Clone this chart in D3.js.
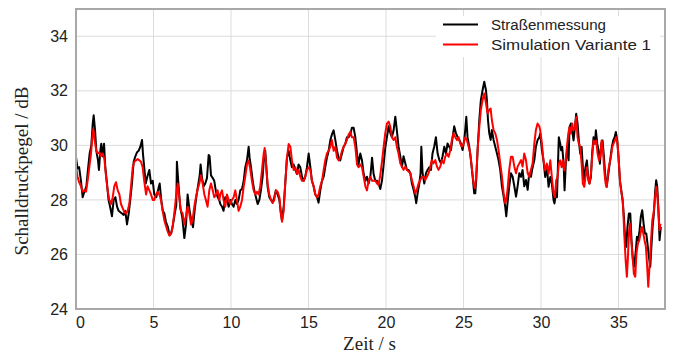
<!DOCTYPE html>
<html><head><meta charset="utf-8">
<script src="https://cdn.jsdelivr.net/npm/d3@7"></script>
<style>html,body{margin:0;padding:0;background:#fff}svg{display:block}</style>
</head><body><svg id="c" width="674" height="354"></svg>
<script>
const xTicks = [0,5,10,15,20,25,30,35];
const yTicks = [24,26,28,30,32,34];
const seriesNames = ["Straßenmessung","Simulation Variante 1"];
const seriesColors = ["#000000","#ff0000"];

const measTime = [0,0.10,0.20,0.32,0.43,0.54,0.67,0.77,0.88,0.99,1.08,1.14,1.23,1.31,1.42,1.48,1.57,1.63,1.72,1.81,1.89,2.00,2.10,2.20,2.32,2.43,2.54,2.65,2.75,2.86,2.97,3.08,3.18,3.29,3.40,3.50,3.61,3.72,3.83,3.94,4.04,4.15,4.26,4.32,4.40,4.50,4.60,4.73,4.84,4.95,5.05,5.18,5.29,5.40,5.50,5.60,5.70,5.80,5.93,6.04,6.15,6.26,6.37,6.47,6.51,6.62,6.73,6.86,6.99,7.10,7.20,7.33,7.44,7.55,7.65,7.76,7.87,7.98,8.04,8.13,8.24,8.34,8.45,8.56,8.62,8.71,8.82,8.92,9.03,9.14,9.24,9.31,9.42,9.52,9.63,9.74,9.85,9.96,10.06,10.17,10.28,10.38,10.49,10.60,10.71,10.82,10.92,11.03,11.14,11.20,11.29,11.40,11.50,11.61,11.72,11.83,11.93,12.04,12.15,12.21,12.28,12.36,12.47,12.58,12.69,12.79,12.90,13.01,13.12,13.22,13.29,13.40,13.50,13.61,13.72,13.83,13.93,14.04,14.15,14.26,14.36,14.47,14.58,14.69,14.79,14.90,15.01,15.12,15.22,15.33,15.44,15.55,15.65,15.76,15.87,15.98,16.08,16.19,16.30,16.41,16.51,16.62,16.73,16.84,16.94,17.05,17.16,17.27,17.37,17.48,17.59,17.70,17.80,17.91,18.02,18.13,18.23,18.34,18.45,18.56,18.67,18.77,18.88,18.99,19.10,19.20,19.31,19.42,19.52,19.63,19.74,19.85,19.95,20.06,20.17,20.28,20.38,20.49,20.60,20.70,20.81,20.92,21.03,21.13,21.24,21.35,21.46,21.57,21.67,21.78,21.89,21.95,22.04,22.15,22.23,22.28,22.36,22.47,22.58,22.68,22.79,22.90,23.00,23.11,23.22,23.33,23.44,23.54,23.65,23.76,23.87,23.97,24.08,24.19,24.30,24.40,24.51,24.62,24.73,24.83,24.94,25.05,25.11,25.18,25.26,25.37,25.48,25.59,25.69,25.76,25.82,25.91,26.02,26.12,26.23,26.34,26.45,26.51,26.58,26.66,26.75,26.83,26.94,27.05,27.16,27.26,27.37,27.48,27.59,27.69,27.76,27.84,27.95,28.06,28.17,28.28,28.39,28.49,28.60,28.71,28.81,28.92,29.03,29.14,29.24,29.35,29.46,29.57,29.67,29.78,29.89,29.95,30.06,30.16,30.27,30.38,30.49,30.60,30.70,30.81,30.87,30.96,31.03,31.09,31.15,31.24,31.30,31.37,31.46,31.52,31.61,31.71,31.78,31.84,31.93,32.01,32.10,32.19,32.27,32.36,32.44,32.53,32.62,32.70,32.79,32.87,32.96,33.05,33.13,33.22,33.30,33.39,33.48,33.54,33.63,33.71,33.80,33.89,33.97,34.06,34.14,34.23,34.32,34.40,34.49,34.57,34.66,34.75,34.83,34.92,35.00,35.09,35.18,35.26,35.35,35.43,35.50,35.58,35.67,35.76,35.84,35.93,36.01,36.10,36.19,36.27,36.36,36.44,36.53,36.62,36.70,36.79,36.87,36.96,37.05,37.11,37.20,37.28,37.37,37.43,37.50,37.58,37.65,37.73];
const measLevel = [29.57,29.15,29.2,28.7,28.1,28.3,28.5,29.1,29.7,30.0,30.8,31.1,30.55,29.8,29.45,29.1,29.8,30.06,29.6,30.06,29.2,28.6,28.0,27.75,27.4,28.0,28.1,27.75,27.6,27.55,27.5,27.45,27.6,27.1,27.5,28.0,28.6,29.4,29.6,29.75,29.8,29.95,30.2,29.7,29.2,28.6,28.85,29.1,28.6,28.7,28.2,28.1,28.35,28.6,28.0,27.6,27.5,27.2,27.0,26.7,26.8,27.1,27.5,27.8,29.4,28.5,27.7,27.35,26.6,27.1,28.2,27.6,27.25,27.0,27.6,28.1,28.5,28.9,29.3,28.8,28.5,28.6,28.8,29.65,29.6,28.9,28.8,28.7,28.3,28.1,28.0,27.85,27.75,27.6,28.1,28.0,27.75,28.0,27.85,27.75,28.0,27.85,28.0,28.35,28.4,28.7,29.2,29.45,29.95,29.55,29.2,28.7,28.35,28.1,27.85,28.0,28.35,28.85,29.7,29.8,29.2,28.5,28.1,28.0,27.9,28.1,28.35,28.2,28.0,27.5,27.25,27.75,28.6,29.55,29.8,29.45,29.2,29.3,29.1,28.95,29.3,29.2,28.85,28.7,28.85,29.2,29.7,29.2,28.7,28.5,28.2,28.1,27.9,28.35,28.7,28.85,29.2,29.55,29.8,30.2,30.4,30.55,30.2,29.8,29.55,29.45,29.7,29.95,30.05,30.3,30.3,30.4,30.65,30.65,30.3,29.7,29.3,29.7,29.45,28.95,28.7,28.85,28.6,28.85,29.55,28.95,28.7,28.7,28.6,28.4,28.7,29.3,29.9,30.3,30.7,30.45,30.3,30.55,31.05,30.55,29.95,29.6,29.2,29.6,29.35,29.1,29.1,28.98,28.6,28.37,28.1,27.88,28.24,28.6,28.98,29.95,28.98,28.6,28.98,29.1,29.2,29.1,29.7,29.95,30.3,29.7,29.46,29.35,29.6,29.95,29.7,30.07,29.95,29.83,30.3,30.7,30.45,30.3,30.2,30.07,29.83,30.2,30.56,31.05,30.3,29.95,29.46,28.85,28.24,28.24,28.73,29.83,30.93,31.66,32.02,32.33,32.02,31.66,30.93,30.45,30.2,30.56,30.2,29.95,29.7,29.46,29.1,28.5,28.12,27.76,27.4,27.88,28.5,28.98,28.85,28.5,28.12,28.5,28.98,28.85,29.1,28.5,28.73,28.37,28.98,28.85,29.2,29.46,29.95,30.2,30.3,30.43,29.82,29.45,28.84,29.2,28.48,28.84,28.6,27.99,27.87,28.23,28.1,29.2,30.3,30.06,29.82,29.94,29.33,28.35,29.45,29.94,29.45,30.67,30.8,30.55,30.18,30.67,31.16,30.8,30.18,29.7,29.94,29.2,28.72,29.2,29.45,28.84,28.6,28.84,29.7,30.3,30.06,30.55,30.06,29.82,29.33,30.06,30.18,29.57,28.96,28.48,28.84,29.2,29.57,29.94,30.18,30.3,30.49,30.18,29.57,28.72,28.35,27.99,27.38,26.52,26.28,27.01,27.5,27.5,26.52,25.79,25.55,26.04,26.65,26.52,26.89,27.38,27.62,27.13,26.77,26.77,26.4,25.91,25.55,26.16,27.01,27.5,28.35,28.72,28.48,27.62,26.52,27.01];

const simTime = [0,0.10,0.20,0.32,0.43,0.54,0.65,0.75,0.86,0.97,1.05,1.12,1.20,1.31,1.40,1.50,1.60,1.72,1.83,1.94,2.04,2.15,2.26,2.37,2.47,2.58,2.69,2.80,2.90,3.01,3.12,3.23,3.33,3.44,3.55,3.66,3.76,3.87,3.98,4.09,4.19,4.30,4.40,4.52,4.62,4.73,4.84,4.95,5.05,5.16,5.27,5.38,5.48,5.59,5.70,5.80,5.91,6.02,6.13,6.23,6.34,6.45,6.56,6.66,6.77,6.88,6.99,7.10,7.20,7.31,7.42,7.52,7.63,7.74,7.85,7.96,8.06,8.17,8.28,8.38,8.49,8.60,8.71,8.82,8.92,9.03,9.14,9.25,9.31,9.42,9.52,9.63,9.74,9.85,9.96,10.06,10.17,10.28,10.38,10.49,10.60,10.71,10.82,10.92,11.03,11.14,11.25,11.35,11.46,11.57,11.68,11.78,11.89,12.00,12.11,12.17,12.26,12.36,12.47,12.58,12.69,12.79,12.90,13.01,13.12,13.22,13.29,13.40,13.50,13.61,13.72,13.83,13.93,14.04,14.15,14.26,14.36,14.47,14.58,14.69,14.79,14.90,15.01,15.12,15.22,15.33,15.44,15.55,15.65,15.76,15.87,15.98,16.08,16.19,16.30,16.41,16.51,16.62,16.73,16.84,16.94,17.05,17.16,17.27,17.37,17.48,17.59,17.70,17.80,17.91,18.02,18.13,18.23,18.34,18.45,18.56,18.67,18.77,18.88,18.99,19.10,19.20,19.31,19.42,19.52,19.63,19.74,19.85,19.95,20.06,20.17,20.28,20.38,20.49,20.60,20.70,20.81,20.92,21.03,21.13,21.24,21.35,21.46,21.57,21.67,21.78,21.89,21.99,22.10,22.21,22.32,22.43,22.53,22.64,22.75,22.86,22.96,23.07,23.18,23.29,23.39,23.50,23.61,23.72,23.82,23.93,24.04,24.15,24.25,24.36,24.47,24.58,24.68,24.79,24.90,25.01,25.11,25.22,25.33,25.44,25.55,25.65,25.74,25.82,25.91,26.02,26.12,26.23,26.34,26.45,26.55,26.66,26.75,26.83,26.94,27.05,27.16,27.26,27.37,27.48,27.59,27.69,27.76,27.84,27.95,28.06,28.17,28.28,28.39,28.49,28.60,28.71,28.81,28.92,29.03,29.14,29.24,29.35,29.46,29.57,29.67,29.78,29.89,29.95,30.06,30.16,30.27,30.38,30.49,30.60,30.70,30.81,30.90,30.98,31.07,31.15,31.24,31.33,31.41,31.50,31.58,31.67,31.76,31.84,31.93,32.01,32.10,32.19,32.27,32.36,32.44,32.53,32.62,32.70,32.79,32.87,32.96,33.05,33.13,33.22,33.30,33.39,33.48,33.56,33.65,33.74,33.82,33.91,34.00,34.08,34.17,34.25,34.34,34.42,34.51,34.60,34.68,34.77,34.85,34.94,35.03,35.11,35.20,35.28,35.37,35.46,35.54,35.61,35.67,35.74,35.82,35.91,35.99,36.08,36.16,36.25,36.34,36.42,36.51,36.60,36.68,36.77,36.85,36.92,37.00,37.09,37.18,37.26,37.35,37.43,37.50,37.58,37.65,37.71];
const simLevel = [29.2,28.85,28.65,28.5,28.3,28.35,28.3,28.7,29.2,29.7,30.3,30.6,30.2,29.8,29.7,29.75,29.6,29.7,29.5,28.85,28.35,28.0,27.85,28.1,28.5,28.65,28.35,28.2,27.85,27.7,27.55,27.5,27.6,27.85,28.5,29.2,29.4,29.45,29.5,29.45,29.4,29.2,28.7,28.2,28.5,28.35,28.2,28.0,28.0,28.2,28.3,28.2,28.0,27.6,27.25,27.05,26.85,26.7,26.75,27.0,27.5,28.1,28.6,28.1,27.6,27.5,27.1,27.4,27.75,27.5,27.1,27.25,27.75,28.1,28.4,28.6,28.9,28.6,28.2,28.0,27.75,28.35,28.6,28.35,28.1,28.2,28.35,28.0,28.2,28.35,28.0,27.75,28.2,28.0,27.85,28.0,28.1,28.35,28.0,27.6,27.75,28.0,28.5,28.85,29.3,29.45,29.1,28.7,28.35,28.2,28.3,28.2,28.5,29.1,29.7,29.9,29.3,28.6,28.2,28.0,27.9,28.0,28.35,28.3,28.1,27.5,27.2,27.6,28.6,29.55,30.05,29.95,29.45,29.1,29.2,28.95,29.1,28.85,28.7,28.7,28.85,29.1,29.2,29.1,28.7,28.5,28.2,28.1,28.2,28.5,28.7,29.1,29.45,29.7,29.8,29.95,30.2,29.8,29.95,29.55,29.45,29.55,29.8,29.95,30.05,30.2,30.4,30.5,30.3,30.3,29.95,29.3,29.2,29.3,29.2,28.85,28.5,28.35,28.7,28.85,28.7,28.7,28.7,28.6,28.55,28.9,29.4,29.95,30.44,30.8,30.87,30.68,30.3,30.2,30.3,29.95,29.7,29.34,29.22,29.1,29.22,29.1,29.04,28.98,28.73,28.5,28.24,28.37,28.6,28.73,28.85,28.85,28.73,28.85,28.98,29.22,29.46,29.34,29.46,29.22,29.1,29.22,29.46,29.34,29.58,29.7,29.58,29.83,30.2,30.44,30.3,30.2,30.3,30.07,29.95,30.07,30.3,30.2,29.95,29.7,29.1,28.6,28.43,28.85,29.83,30.68,31.3,31.66,31.9,31.54,31.17,31.3,31.35,30.93,30.56,30.44,30.2,29.83,29.34,28.85,28.24,27.88,28.0,28.37,29.1,29.58,29.58,29.22,28.98,29.22,29.34,29.46,29.22,29.7,29.46,28.98,28.85,29.1,29.34,30.07,30.56,30.8,30.7,30.55,30.06,29.45,29.08,29.33,28.96,29.45,28.84,28.23,28.1,28.72,28.84,29.33,29.45,29.2,29.45,29.08,29.33,29.94,30.43,30.67,30.43,30.8,30.55,30.67,31.04,30.3,30.06,29.94,29.33,28.6,28.48,28.84,29.2,28.72,28.6,28.96,29.57,30.18,30.06,30.18,29.7,29.45,29.57,30.18,29.82,29.08,28.6,28.48,29.08,29.33,29.57,29.94,30.06,30.18,30.3,30.06,29.33,28.6,28.23,27.99,26.77,25.79,25.18,25.91,26.77,27.13,26.52,25.91,25.3,25.18,26.04,26.4,26.52,26.77,27.01,26.77,26.52,26.28,25.55,24.82,25.55,26.4,27.26,27.5,27.99,28.48,28.23,27.5,26.89,27.13];

const m = {left: 76, right: 665, top: 9, bottom: 309};
const svg = d3.select("#c");
const x = d3.scaleLinear().domain([0, 38]).range([m.left, m.right]);
const y = d3.scaleLinear().domain([24, 35]).range([m.bottom, m.top]);

// grid
svg.append("g").selectAll("line").data(xTicks).join("line")
  .attr("x1", d => x(d)).attr("x2", d => x(d)).attr("y1", m.top).attr("y2", m.bottom)
  .attr("stroke", "#dcdcdc").attr("stroke-width", 1);
svg.append("g").selectAll("line").data(yTicks).join("line")
  .attr("x1", m.left).attr("x2", m.right).attr("y1", d => y(d)).attr("y2", d => y(d))
  .attr("stroke", "#dcdcdc").attr("stroke-width", 1);

// axes (labels only)
const xAxis = d3.axisBottom(x).tickValues(xTicks).tickSize(0).tickPadding(8);
const gx = svg.append("g").attr("transform", `translate(0,${m.bottom})`).call(xAxis);
const yAxis = d3.axisLeft(y).tickValues(yTicks).tickSize(0).tickPadding(8);
const gy = svg.append("g").attr("transform", `translate(${m.left},0)`).call(yAxis);
[gx, gy].forEach(g => {
  g.select(".domain").remove();
  g.selectAll("text").attr("font-family", "'Liberation Sans', Arial, sans-serif")
    .attr("font-size", 16).attr("fill", "#222");
});
gx.selectAll(".tick").filter(d => d === 0).select("text").attr("dx", 4);

// lines
const series = [
  {name: seriesNames[0], color: seriesColors[0], t: measTime, v: measLevel, w: 115},
  {name: seriesNames[1], color: seriesColors[1], t: simTime, v: simLevel, w: 160}
];
const line = d3.line().x(d => x(d[0])).y(d => y(d[1]));
const plot = svg.append("g");
series.forEach(s => {
  const pts = s.t.map((t, i) => [t, s.v[i]]);
  plot.append("path").datum(pts).attr("d", line)
    .attr("fill", "none").attr("stroke", s.color).attr("stroke-width", 2)
    .attr("stroke-linejoin", "round");
});

// frame
svg.append("rect").attr("x", m.left).attr("y", m.top)
  .attr("width", m.right - m.left).attr("height", m.bottom - m.top)
  .attr("fill", "none").attr("stroke", "#a8a8a8").attr("stroke-width", 2);

// legend
const lg = svg.append("g");
lg.append("rect").attr("x", 436).attr("y", 16).attr("width", 224).attr("height", 41).attr("fill", "#fff");
series.forEach((s, i) => {
  const yy = 24.5 + i * 20;
  lg.append("line").attr("x1", 443).attr("x2", 478).attr("y1", yy).attr("y2", yy)
    .attr("stroke", s.color).attr("stroke-width", 2);
  lg.append("text").attr("x", 491).attr("y", yy).attr("dy", "0.36em")
    .attr("font-family", "'Liberation Sans', Arial, sans-serif").attr("font-size", 15.5)
    .attr("textLength", s.w).attr("lengthAdjust", "spacingAndGlyphs")
    .attr("fill", "#222").text(s.name);
});

// axis titles
svg.append("text").attr("x", (x(0) + x(38)) / 2 - 1).attr("y", 350)
  .attr("text-anchor", "middle").attr("font-family", "'Liberation Serif', 'DejaVu Serif', serif")
  .attr("font-size", 19).attr("fill", "#222").text("Zeit / s");
svg.append("text").attr("transform", "translate(28,171) rotate(-90)")
  .attr("text-anchor", "middle").attr("font-family", "'Liberation Serif', 'DejaVu Serif', serif")
  .attr("font-size", 19).attr("fill", "#222").text("Schalldruckpegel / dB");
</script></body></html>
